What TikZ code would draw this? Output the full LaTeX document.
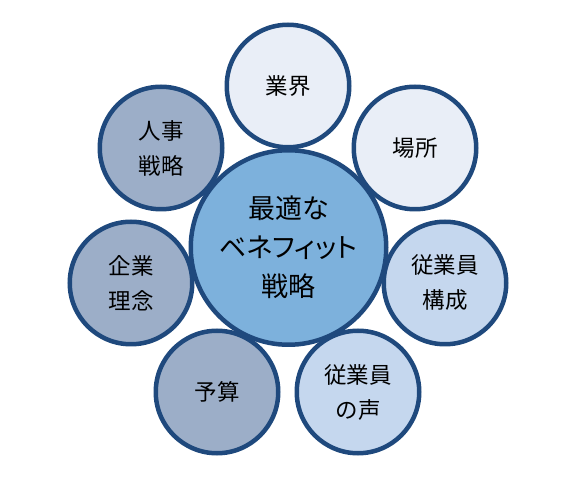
\documentclass[tikz,border=0pt]{standalone}
\usepackage{fontspec}
\setmainfont{Noto Sans CJK JP}
\usetikzlibrary{shapes.geometric}
\definecolor{edgeblue}{HTML}{1F497D}
\definecolor{centerfill}{HTML}{7DB1DC}
\definecolor{palefill}{HTML}{E9EEF7}
\definecolor{midfill}{HTML}{C5D7EE}
\definecolor{grayfill}{HTML}{9CAEC8}
\tikzset{
  bubble/.style={circle, draw=edgeblue, line width=4.5pt, minimum size=122.5pt,
    inner sep=0pt, align=center, text=black, font=\fontsize{22.5}{35}\selectfont},
  hub/.style={ellipse, draw=edgeblue, fill=centerfill, line width=4.5pt,
    minimum width=186.5pt, minimum height=194.5pt, inner sep=0pt, align=center,
    text=black, font=\fontsize{27}{39}\selectfont}
}
\begin{document}
\begin{tikzpicture}[x=1pt,y=-1pt]
\useasboundingbox (0,0) rectangle (579,486);
\node[bubble, fill=palefill] (gyokai) at (288,86) {業界};
\node[bubble, fill=palefill] (basho) at (415,148) {場所};
\node[bubble, fill=midfill] (kosei) at (445,283) {従業員\\構成};
\node[bubble, fill=midfill] (koe) at (358,392) {従業員\\の声};
\node[bubble, fill=grayfill] (yosan) at (217,392) {予算};
\node[bubble, fill=grayfill] (rinen) at (131,283) {企業\\理念};
\node[bubble, fill=grayfill] (jinji) at (161,148) {人事\\戦略};
\node[hub] (hub) at (288.5,247.5) {最適な\\{\addfontfeatures{RawFeature=+palt}ベネフィット}\\戦略};
\end{tikzpicture}
\end{document}
